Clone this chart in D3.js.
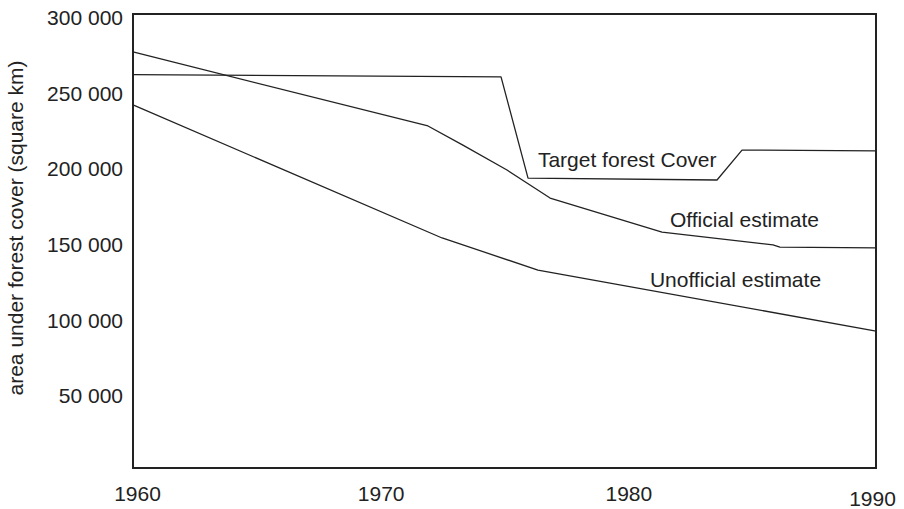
<!DOCTYPE html>
<html>
<head>
<meta charset="utf-8">
<script src="https://cdn.jsdelivr.net/npm/d3@7"></script>
<style>
  body { margin: 0; background: #fff; }
  text { font-family: "Liberation Sans", Arial, sans-serif; fill: #222; }
</style>
</head>
<body>
<script>
// series: [year, square km]
const target = [[1960, 260000], [1974.86, 258500], [1975.95, 191600], [1983.58, 190300], [1984.59, 210100], [1990, 209500]];
const official = [[1960, 274900], [1971.91, 226000], [1973.32, 213400], [1975.1, 196900], [1976.03, 187000],
  [1976.84, 178400], [1981.36, 155900], [1985.84, 147400], [1986.12, 146000], [1990, 145400]];
const unofficial = [[1960, 239900], [1972.48, 152000], [1976.35, 130800], [1990, 90500]];

const yearTicks = [1960, 1970, 1980, 1990];
const valueTicks = [50000, 100000, 150000, 200000, 250000, 300000];

// in-chart labels, placed in data units
const labels = [
  {text: "Target forest Cover", year: 1976.35, value: 198900},
  {text: "Official estimate", year: 1981.68, value: 159300},
  {text: "Unofficial estimate", year: 1980.87, value: 119600}
];

const W = 904, H = 509;
var margin = {top: 14, right: 28, bottom: 41, left: 133},
    width = W - margin.left - margin.right,
    height = H - margin.top - margin.bottom;

var x = d3.scaleLinear().domain([1960, 1990]).range([0, width]);
var y = d3.scaleLinear().domain([0, 300000]).range([height, 0]);

var svg = d3.select("body").append("svg")
    .attr("width", W)
    .attr("height", H);

var g = svg.append("g")
    .attr("transform", "translate(" + margin.left + "," + margin.top + ")");

var fmt = d => d3.format(",")(d).replace(/,/g, " ");

var yAxis = g.append("g")
    .call(d3.axisLeft(y).tickValues(valueTicks).tickSize(0).tickPadding(10).tickFormat(fmt));
yAxis.select(".domain").remove();
yAxis.selectAll("text").style("font-size", "21px").attr("fill", "#222").attr("dy", "0.5em");

var xAxis = g.append("g")
    .attr("transform", "translate(0," + height + ")")
    .call(d3.axisBottom(x).tickValues(yearTicks).tickSize(0).tickPadding(18).tickFormat(d3.format("d")));
xAxis.select(".domain").remove();
xAxis.selectAll("text").style("font-size", "21px").attr("fill", "#222");
// small hand-placement quirks of the original labels
xAxis.selectAll("text").attr("dx", d => d == 1960 ? 4 : d == 1990 ? -4 : 0)
    .attr("transform", d => d == 1990 ? "translate(0,5)" : null);

// frame
g.append("rect")
    .attr("width", width)
    .attr("height", height)
    .attr("fill", "none")
    .attr("stroke", "#222")
    .attr("stroke-width", 2);

var line = d3.line()
    .x(d => x(d[0]))
    .y(d => y(d[1]));

[target, official, unofficial].forEach(function(s) {
  g.append("path")
      .datum(s)
      .attr("fill", "none")
      .attr("stroke", "#222")
      .attr("stroke-width", 1.3)
      .attr("stroke-linejoin", "round")
      .attr("d", line);
});

g.selectAll(".lbl")
    .data(labels)
    .enter().append("text")
    .attr("class", "lbl")
    .attr("x", d => x(d.year))
    .attr("y", d => y(d.value))
    .style("font-size", "21px")
    .text(d => d.text);

svg.append("text")
    .attr("transform", "translate(23," + 228 + ") rotate(-90)")
    .attr("text-anchor", "middle")
    .style("font-size", "21px")
    .text("area under forest cover (square km)");
</script>
</body>
</html>
